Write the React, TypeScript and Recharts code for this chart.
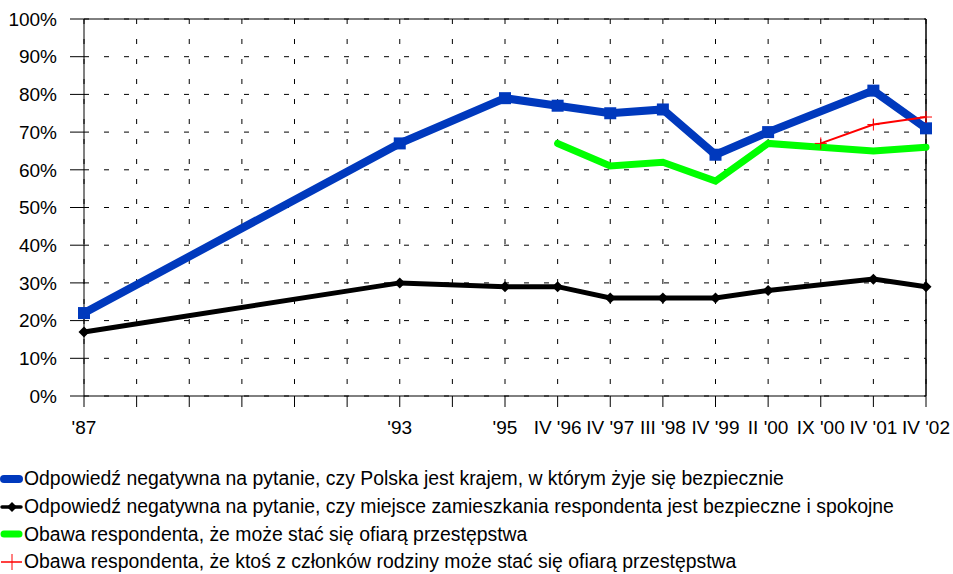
import React from 'react';
import { LineChart, Line, XAxis, YAxis, CartesianGrid, Legend, ReferenceLine } from 'recharts';

const categories = ["'87", "'88", "'89", "'90", "'91", "'92", "'93", "'94", "'95", "IV '96", "IV '97", "III '98", "IV '99", "II '00", "IX '00", "IV '01", "IV '02"];
const tickLabels = ["'87", "", "", "", "", "", "'93", "", "'95", "IV '96", "IV '97", "III '98", "IV '99", "II '00", "IX '00", "IV '01", "IV '02"];

const polskaBezpieczna = [22, null, null, null, null, null, 67, null, 79, 77, 75, 76, 64, 70, null, 81, 71];
const miejsceZamieszkania = [17, null, null, null, null, null, 30, null, 29, 29, 26, 26, 26, 28, null, 31, 29];
const obawaOfiara = [null, null, null, null, null, null, null, null, null, 67, 61, 62, 57, 67, 66, 65, 66];
const obawaRodzina = [null, null, null, null, null, null, null, null, null, null, null, null, null, null, 67, 72, 74];

const yTicks = [0, 10, 20, 30, 40, 50, 60, 70, 80, 90, 100];

const seriesNames = [
  'Odpowiedź negatywna na pytanie, czy Polska jest krajem, w którym żyje się bezpiecznie',
  'Odpowiedź negatywna na pytanie, czy miejsce zamieszkania respondenta jest bezpieczne i spokojne',
  'Obawa respondenta, że może stać się ofiarą przestępstwa',
  'Obawa respondenta, że ktoś z członków rodziny może stać się ofiarą przestępstwa',
];

const data = categories.map((c, i) => ({
  period: c,
  a: polskaBezpieczna[i],
  b: miejsceZamieszkania[i],
  c: obawaOfiara[i],
  d: obawaRodzina[i],
}));

const BLUE = '#0039BD';
const GREEN = '#00FF00';
const RED = '#FF0000';
const FONT = '"Liberation Sans", Arial, sans-serif';

const SquareDot = (props: any) => {
  const { cx, cy, index, value } = props;
  if (cx == null || cy == null || value == null) return <g key={`s${index}`} />;
  return <rect key={`s${index}`} x={cx - 6} y={cy - 6} width={12} height={12} fill={BLUE} />;
};

const DiamondDot = (props: any) => {
  const { cx, cy, index, value } = props;
  if (cx == null || cy == null || value == null) return <g key={`d${index}`} />;
  const r = 5.5;
  return <path key={`d${index}`} d={`M${cx},${cy - r}L${cx + r},${cy}L${cx},${cy + r}L${cx - r},${cy}Z`} fill="#000" />;
};

const PlusDot = (props: any) => {
  const { cx, cy, index, value } = props;
  if (cx == null || cy == null || value == null) return <g key={`p${index}`} />;
  return (
    <path key={`p${index}`} d={`M${cx - 6},${cy}L${cx + 6},${cy}M${cx},${cy - 6}L${cx},${cy + 6}`} stroke={RED} strokeWidth={1} />
  );
};

const legendIcons = [
  <svg width={24} height={16} key="i0"><line x1={4} y1={8} x2={19} y2={8} stroke={BLUE} strokeWidth={8} strokeLinecap="round" /></svg>,
  <svg width={24} height={16} key="i1"><line x1={2} y1={8} x2={21} y2={8} stroke="#000" strokeWidth={3.5} strokeLinecap="round" /><path d="M12,3L17,8L12,13L7,8Z" fill="#000" /></svg>,
  <svg width={24} height={16} key="i2"><line x1={4} y1={8} x2={19} y2={8} stroke={GREEN} strokeWidth={7} strokeLinecap="round" /></svg>,
  <svg width={24} height={16} key="i3"><line x1={1} y1={8} x2={22} y2={8} stroke={RED} strokeWidth={1.5} /><line x1={12} y1={0} x2={12} y2={16} stroke={RED} strokeWidth={1} /></svg>,
];

const renderLegend = () => (
  <div style={{ paddingTop: 11, fontFamily: FONT, fontSize: 19.4, color: '#000' }}>
    {seriesNames.map((n, i) => (
      <div key={n} style={{ height: 27.8, lineHeight: '27.8px', display: 'flex', alignItems: 'center', whiteSpace: 'nowrap' }}>
        {legendIcons[i]}
        <span>{n}</span>
      </div>
    ))}
  </div>
);

export default function App() {
  return (
    <div style={{ position: 'absolute', left: 0, top: 0, width: 953, height: 574, background: '#fff' }}>
      <LineChart width={953} height={574} data={data} margin={{ top: 19, right: 27, left: 0, bottom: 0 }}>
        <CartesianGrid stroke="#000" strokeDasharray="5 15" />
        <XAxis
          dataKey="period"
          interval={0}
          tickFormatter={(v: any, i: number) => tickLabels[i]}
          tickSize={11}
          tickMargin={14}
          height={58}
          axisLine={{ stroke: '#000' }}
          tickLine={{ stroke: '#000' }}
          tick={{ fill: '#000', fontSize: 19, fontFamily: FONT }}
        />
        <YAxis
          domain={[0, 100]}
          ticks={yTicks}
          tickFormatter={(v: number) => `${v}%`}
          width={84}
          tickSize={14}
          tickMargin={13}
          axisLine={{ stroke: '#000' }}
          tickLine={{ stroke: '#000' }}
          tick={{ fill: '#000', fontSize: 19, fontFamily: FONT }}
          interval={0}
        />
        <ReferenceLine y={100} stroke="#000" strokeWidth={1} />
        <ReferenceLine x="IV '02" stroke="#000" strokeWidth={1.5} />
        <Legend verticalAlign="bottom" content={renderLegend} wrapperStyle={{ left: 0, width: 953, height: 120 }} />
        <Line dataKey="a" name={seriesNames[0]} stroke={BLUE} strokeWidth={8} connectNulls dot={SquareDot} activeDot={false} isAnimationActive={false} />
        <Line dataKey="b" name={seriesNames[1]} stroke="#000" strokeWidth={5} connectNulls dot={DiamondDot} activeDot={false} isAnimationActive={false} />
        <Line dataKey="c" name={seriesNames[2]} stroke={GREEN} strokeWidth={7} strokeLinecap="round" connectNulls dot={false} activeDot={false} isAnimationActive={false} />
        <Line dataKey="d" name={seriesNames[3]} stroke={RED} strokeWidth={2} connectNulls dot={PlusDot} activeDot={false} isAnimationActive={false} />
      </LineChart>
    </div>
  );
}
